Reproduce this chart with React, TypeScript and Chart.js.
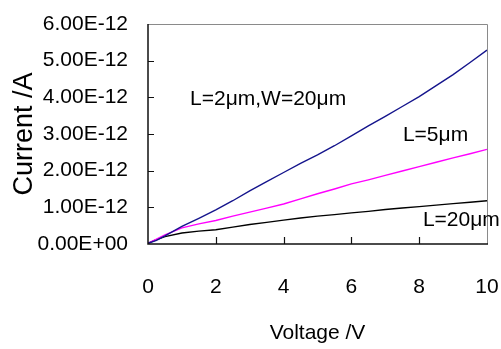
import React, { useEffect, useRef } from "react";
import { Chart, registerables } from "chart.js";

Chart.register(...registerables);

// Voltage (V)
const voltage = [0, 0.25, 0.5, 1, 1.5, 2, 2.5, 3, 3.5, 4, 4.5, 5, 5.5, 6, 6.5, 7, 7.5, 8, 8.5, 9, 9.5, 10];
// Current in units of 1e-12 A
const currentL2 = [0.02, 0.1, 0.22, 0.48, 0.7, 0.93, 1.18, 1.45, 1.7, 1.95, 2.2, 2.43, 2.68, 2.95, 3.22, 3.48, 3.75, 4.02, 4.32, 4.62, 4.95, 5.29];
const currentL5 = [0.02, 0.13, 0.25, 0.44, 0.55, 0.64, 0.76, 0.87, 0.98, 1.09, 1.23, 1.37, 1.5, 1.64, 1.75, 1.87, 1.99, 2.11, 2.23, 2.35, 2.46, 2.58];
const currentL20 = [0.02, 0.12, 0.2, 0.3, 0.35, 0.39, 0.46, 0.53, 0.59, 0.65, 0.71, 0.76, 0.8, 0.85, 0.89, 0.94, 0.98, 1.02, 1.06, 1.1, 1.14, 1.18];

const yTickLabels = ["0.00E+00", "1.00E-12", "2.00E-12", "3.00E-12", "4.00E-12", "5.00E-12", "6.00E-12"];
const xTickValues = [0, 2, 4, 6, 8, 10];

const seriesLabels = ["L=2μm,W=20μm", "L=5μm", "L=20μm"];
const seriesColors = ["#14148c", "#ff00ff", "#000000"];
const annotationX = [1.24, 7.52, 8.11];
const annotationY = [3.95, 2.97, 0.65];

const FONT = "'Liberation Sans', Arial, sans-serif";

const frame = {
  id: "frame",
  afterDatasetsDraw(chart: any) {
    const { ctx, chartArea: a, scales } = chart;
    const xs = scales.x;
    const ys = scales.y;
    ctx.save();
    ctx.strokeStyle = "#8a8a8a";
    ctx.lineWidth = 1;
    ctx.beginPath();
    ctx.moveTo(a.left, a.top + 0.5);
    ctx.lineTo(a.right + 0.5, a.top + 0.5);
    ctx.lineTo(a.right + 0.5, a.bottom);
    ctx.stroke();
    ctx.strokeStyle = "#111";
    ctx.lineWidth = 1.5;
    ctx.beginPath();
    ctx.moveTo(a.left, a.top);
    ctx.lineTo(a.left, a.bottom);
    ctx.lineTo(a.right + 1, a.bottom);
    ctx.stroke();
    ctx.lineWidth = 1.2;
    ctx.beginPath();
    for (let i = 1; i < yTickLabels.length - 1; i++) {
      const y = Math.round(ys.getPixelForValue(i)) + 0.5;
      ctx.moveTo(a.left, y);
      ctx.lineTo(a.left + 6, y);
    }
    for (let i = 1; i < xTickValues.length - 1; i++) {
      const x = Math.round(xs.getPixelForValue(xTickValues[i])) + 0.5;
      ctx.moveTo(x, a.bottom);
      ctx.lineTo(x, a.bottom - 7);
    }
    ctx.stroke();
    ctx.fillStyle = "#000";
    ctx.font = `21px ${FONT}`;
    ctx.textAlign = "left";
    ctx.textBaseline = "middle";
    for (let i = 0; i < seriesLabels.length; i++) {
      ctx.fillText(seriesLabels[i], xs.getPixelForValue(annotationX[i]), ys.getPixelForValue(annotationY[i]));
    }
    ctx.restore();
  },
};

export default function App() {
  const ref = useRef<HTMLCanvasElement>(null);
  useEffect(() => {
    if (!ref.current) return;
    const series = [currentL2, currentL5, currentL20];
    const chart = new Chart(ref.current, {
      type: "line",
      data: {
        datasets: series.map((s, k) => ({
          label: seriesLabels[k],
          data: voltage.map((v, i) => ({ x: v, y: s[i] })),
          borderColor: seriesColors[k],
          borderWidth: 1.4,
          pointRadius: 0,
          tension: 0,
          fill: false,
        })),
      },
      options: {
        animation: false,
        responsive: true,
        maintainAspectRatio: false,
        layout: { padding: { top: 24, right: 14, bottom: 0, left: 0 } },
        plugins: { legend: { display: false }, tooltip: { enabled: false } },
        scales: {
          x: {
            type: "linear",
            min: 0,
            max: 10,
            afterBuildTicks: (s: any) => {
              s.ticks = xTickValues.map((v) => ({ value: v }));
            },
            afterFit: (s: any) => {
              s.height = 105;
              s.paddingLeft = 0;
              s.paddingRight = 0;
            },
            grid: { display: false, drawTicks: false },
            border: { display: false },
            ticks: { color: "#000", font: { family: FONT, size: 21 }, padding: 31, maxRotation: 0 },
            title: {
              display: true,
              text: "Voltage /V",
              color: "#000",
              font: { family: FONT, size: 21 },
              padding: { top: 0, bottom: 3 },
            },
          },
          y: {
            type: "linear",
            min: 0,
            max: 6,
            afterBuildTicks: (s: any) => {
              s.ticks = yTickLabels.map((_, i) => ({ value: i }));
            },
            afterFit: (s: any) => {
              s.width = 148;
              s.paddingTop = 0;
              s.paddingBottom = 0;
            },
            grid: { display: false, drawTicks: false },
            border: { display: false },
            ticks: {
              color: "#000",
              font: { family: FONT, size: 21 },
              padding: 20,
              callback: (_v: any, i: number) => yTickLabels[i],
            },
            title: {
              display: true,
              text: "Current /A",
              color: "#000",
              font: { family: FONT, size: 27 },
              padding: { top: 8, bottom: 0 },
            },
          },
        },
      },
      plugins: [frame],
    });
    return () => chart.destroy();
  }, []);
  return (
    <div style={{ position: "absolute", left: 0, top: 0, width: 501, height: 349, background: "#fff" }}>
      <canvas ref={ref} />
    </div>
  );
}
